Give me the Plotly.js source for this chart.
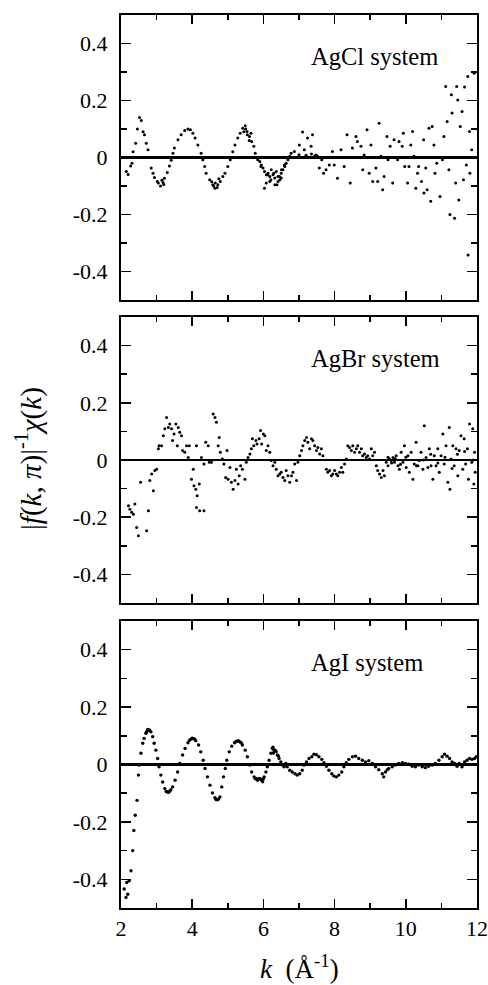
<!DOCTYPE html>
<html>
<head>
<meta charset="utf-8">
<script src="https://cdn.plot.ly/plotly-3.0.1.min.js"></script>
<style>html,body{margin:0;padding:0;background:#fff;}#chart{width:488px;height:985px;}</style>
</head>
<body>
<div id="chart"></div>
<script>
// ---- Data ----
const panelLabels = ["AgCl system", "AgBr system", "AgI system"];
const xTickVals = [2, 4, 6, 8, 10, 12];
const xTickText = ["2", "4", "6", "8", "10", "12"];
const yTickVals = [-0.4, -0.2, 0, 0.2, 0.4];
const yTickText = ["-0.4", "-0.2", "0", "0.2", "0.4"];

// AgCl system
const kAgCl = [2.15,2.2,2.27,2.31,2.34,2.41,2.46,2.52,2.57,2.62,2.66,2.71,2.76,2.8,2.85,2.9,2.94,3.02,3.05,3.11,3.15,3.18,3.2,3.22,3.3,3.36,3.41,3.46,3.5,3.6,3.69,3.79,3.88,3.95,4.02,4.08,4.16,4.25,4.3,4.35,4.39,4.49,4.55,4.58,4.6,4.64,4.65,4.7,4.72,4.75,4.79,4.86,4.92,5.0,5.07,5.14,5.2,5.28,5.35,5.42,5.45,5.49,5.5,5.54,5.55,5.6,5.61,5.65,5.67,5.73,5.77,5.84,5.9,5.93,5.94,5.99,6.03,6.03,6.08,6.08,6.12,6.13,6.18,6.18,6.21,6.22,6.27,6.29,6.32,6.32,6.36,6.38,6.41,6.41,6.45,6.46,6.5,6.5,6.51,6.55,6.59,6.6,6.64,6.68,6.69,6.74,6.78,6.87,7.0,7.01,7.1,7.15,7.2,7.24,7.34,7.35,7.38,7.45,7.48,7.52,7.57,7.64,7.69,7.76,7.85,7.94,7.99,8.08,8.18,8.27,8.35,8.44,8.5,8.6,8.64,8.74,8.79,8.83,8.91,8.97,9.02,9.07,9.16,9.21,9.25,9.3,9.35,9.39,9.47,9.5,9.56,9.63,9.67,9.77,9.81,9.9,9.93,9.97,10.05,10.09,10.14,10.19,10.23,10.28,10.33,10.36,10.44,10.5,10.51,10.56,10.6,10.65,10.7,10.74,10.79,10.82,10.87,10.96,11.03,11.07,11.12,11.16,11.21,11.24,11.28,11.3,11.37,11.4,11.43,11.46,11.49,11.53,11.58,11.62,11.65,11.7,11.74,11.75,11.79,11.8,11.85,11.92];
const vAgCl = [-0.049,-0.06,-0.03,-0.02,0.02,0.05,0.1,0.14,0.13,0.09,0.08,0.05,0.027,0,-0.037,-0.055,-0.07,-0.084,-0.09,-0.1,-0.08,-0.088,-0.095,-0.073,-0.053,-0.03,-0.01,0.015,0.033,0.062,0.08,0.095,0.1,0.097,0.085,0.068,0.044,0.015,-0.008,-0.032,-0.055,-0.078,-0.085,-0.096,-0.1,-0.108,-0.09,-0.105,-0.096,-0.075,-0.084,-0.067,-0.055,-0.032,-0.008,0.02,0.044,0.068,0.085,0.103,0.09,0.111,0.1,0.091,0.08,0.06,0.074,0.085,0.056,0.039,0.015,-0.008,-0.014,-0.032,-0.026,-0.037,-0.049,-0.108,-0.061,-0.09,-0.061,-0.055,-0.067,-0.084,-0.078,-0.043,-0.061,-0.055,-0.072,-0.096,-0.049,-0.096,-0.067,-0.084,-0.067,-0.078,-0.055,-0.072,-0.043,-0.043,-0.026,-0.032,-0.02,-0.002,-0.008,0.004,0.015,0.021,0.01,0.044,0.089,0.027,0.008,0.068,0.039,0.012,0.08,0.006,0.009,0.004,-0.037,-0.008,-0.055,-0.043,-0.026,0.021,-0.026,-0.073,0.027,-0.032,0.08,-0.09,0.033,0.074,0.056,0.039,-0.043,0.009,0.097,-0.055,0.044,-0.084,-0.037,-0.084,0.12,0.004,-0.113,-0.067,0.074,-0.008,0.039,-0.09,0.062,-0.008,0.056,0.039,0.085,-0.032,-0.09,-0.032,0.044,0.091,0.004,-0.108,-0.055,-0.032,-0.084,0.062,-0.125,-0.037,-0.113,0.103,-0.154,0.109,0.044,-0.055,-0.02,-0.137,-0.008,0.074,0.249,0.126,-0.043,-0.2,0.22,0.156,-0.213,-0.09,0.249,0.202,-0.149,0.109,0.161,-0.078,0.247,-0.026,0.284,-0.342,0.091,-0.055,0.027,0.296];

// AgBr system
const kAgBr = [2.21,2.25,2.3,2.35,2.39,2.44,2.49,2.55,2.72,2.77,2.81,2.86,2.91,2.95,3.0,3.05,3.07,3.14,3.19,3.23,3.28,3.33,3.37,3.42,3.45,3.49,3.54,3.58,3.61,3.65,3.7,3.73,3.79,3.84,3.89,3.92,3.98,4.03,4.05,4.1,4.12,4.14,4.2,4.12,4.21,4.33,4.26,4.33,4.38,4.45,4.48,4.54,4.59,4.64,4.68,4.73,4.76,4.79,4.85,4.89,4.94,4.98,5.01,5.06,5.1,5.15,5.2,5.24,5.29,5.32,5.36,5.41,5.48,5.52,5.57,5.62,5.66,5.69,5.73,5.79,5.82,5.88,5.92,5.95,6.0,6.04,6.08,6.13,6.18,6.22,6.27,6.32,6.36,6.41,6.46,6.5,6.55,6.6,6.64,6.69,6.74,6.79,6.83,6.88,6.93,6.97,7.02,7.07,7.11,7.16,7.21,7.25,7.3,7.35,7.39,7.44,7.49,7.53,7.58,7.63,7.67,7.77,7.81,7.86,7.91,7.95,8.0,8.05,8.09,8.14,8.19,8.23,8.28,8.33,8.37,8.42,8.47,8.51,8.56,8.61,8.65,8.7,8.75,8.79,8.84,8.89,8.93,8.98,9.03,9.07,9.12,9.17,9.21,9.26,9.31,9.36,9.4,9.45,9.5,9.5,9.54,9.59,9.6,9.64,9.68,9.7,9.73,9.78,9.82,9.85,9.87,9.92,9.96,10.0,10.01,10.06,10.1,10.15,10.2,10.24,10.29,10.3,10.34,10.38,10.43,10.48,10.5,10.52,10.57,10.62,10.66,10.7,10.71,10.76,10.8,10.85,10.9,10.9,10.94,10.99,11.04,11.08,11.1,11.13,11.18,11.22,11.24,11.27,11.3,11.32,11.36,11.41,11.45,11.46,11.5,11.55,11.6,11.64,11.65,11.68,11.73,11.76,11.79,11.85,11.88,11.9,11.91,11.93,11.95];
const vAgBr = [-0.16,-0.172,-0.183,-0.19,-0.154,-0.236,-0.265,-0.078,-0.247,-0.177,-0.072,-0.049,-0.107,-0.037,-0.032,0.039,0.05,0.05,0.085,0.109,0.149,0.114,0.126,0.109,0.068,0.091,0.126,0.05,0.114,0.097,0.085,0.033,0.027,0.05,0.009,0.05,-0.067,-0.032,-0.09,-0.102,0.05,-0.125,-0.084,-0.166,-0.177,-0.177,0.009,-0.014,0.062,0.05,-0.008,-0.008,0.161,0.149,0.132,0.05,0.079,0.027,0.004,-0.014,-0.061,0.033,-0.067,-0.026,-0.078,-0.102,-0.072,-0.032,-0.084,-0.055,-0.02,-0.032,-0.067,-0.008,0.009,0.021,0.039,0.074,0.05,0.068,0.056,0.074,0.103,0.056,0.091,0.085,0.033,0.05,0.027,-0.002,-0.02,-0.008,-0.032,-0.055,-0.049,-0.043,-0.061,-0.072,-0.037,-0.055,-0.078,-0.055,-0.043,-0.014,-0.072,-0.008,0.015,0.033,0.05,0.068,0.079,0.062,0.039,0.074,0.068,0.05,0.033,0.044,0.021,0.039,0.015,-0.032,-0.043,-0.037,-0.055,-0.049,-0.037,-0.049,-0.055,-0.043,-0.026,-0.043,-0.014,0.004,0.05,0.044,0.033,0.05,0.027,0.039,0.05,0.027,0.039,0.015,0.021,0.009,0.015,0.004,0.039,0.015,0.027,-0.02,-0.037,-0.049,-0.061,-0.037,-0.055,-0.008,-0.02,0.01,0.004,-0.002,-0.01,0.009,-0.008,0.005,0.015,-0.02,-0.032,-0.015,0.027,-0.008,0.05,0.01,-0.026,0.015,-0.043,0.027,-0.067,-0.014,0.062,-0.02,-0.02,-0.002,0.027,-0.032,0.0,0.12,0.009,-0.026,0.039,0.02,-0.02,-0.067,0.015,-0.02,0.039,-0.01,-0.043,0.015,0.091,-0.014,0.01,0.05,-0.078,0.114,-0.102,0.004,-0.03,0.05,-0.02,0.039,0.02,-0.055,0.033,0.085,-0.032,0.074,0.03,-0.014,0.039,-0.067,0.126,-0.008,0.109,0.0,-0.084,0.027,-0.043];

// AgI system
const kAgI = [2.09,2.14,2.16,2.19,2.23,2.28,2.33,2.36,2.4,2.45,2.49,2.51,2.56,2.61,2.65,2.7,2.72,2.75,2.77,2.8,2.84,2.89,2.93,2.98,3.03,3.07,3.12,3.17,3.23,3.27,3.31,3.34,3.37,3.4,3.45,3.52,3.59,3.65,3.73,3.8,3.88,3.92,3.96,4.0,4.04,4.07,4.1,4.18,4.24,4.31,4.36,4.43,4.5,4.57,4.64,4.67,4.71,4.74,4.78,4.83,4.88,4.93,4.97,5.04,5.11,5.19,5.23,5.27,5.31,5.35,5.38,5.41,5.49,5.55,5.62,5.67,5.74,5.77,5.8,5.84,5.88,5.92,5.95,5.98,6.0,6.02,6.07,6.11,6.16,6.21,6.25,6.27,6.28,6.3,6.33,6.36,6.39,6.42,6.44,6.49,6.53,6.58,6.63,6.67,6.74,6.81,6.89,6.95,7.02,7.09,7.14,7.21,7.28,7.36,7.42,7.49,7.56,7.64,7.7,7.77,7.84,7.92,7.98,8.05,8.12,8.2,8.26,8.33,8.4,8.5,8.59,8.68,8.78,8.87,8.96,9.06,9.15,9.24,9.34,9.38,9.43,9.48,9.52,9.62,9.71,9.8,9.9,9.99,10.08,10.18,10.27,10.36,10.46,10.55,10.64,10.74,10.83,10.93,11.02,11.09,11.16,11.23,11.3,11.37,11.44,11.5,11.58,11.65,11.72,11.79,11.86,11.93,11.98];
const vAgI = [-0.434,-0.463,-0.411,-0.452,-0.405,-0.37,-0.3,-0.23,-0.177,-0.125,-0.037,-0.002,0.039,0.074,0.091,0.109,0.114,0.122,0.118,0.12,0.114,0.097,0.074,0.05,0.021,-0.008,-0.037,-0.061,-0.084,-0.094,-0.096,-0.097,-0.092,-0.088,-0.078,-0.055,-0.026,0.004,0.033,0.056,0.076,0.084,0.088,0.092,0.09,0.088,0.083,0.068,0.044,0.015,-0.014,-0.043,-0.072,-0.099,-0.116,-0.122,-0.123,-0.12,-0.113,-0.078,-0.043,-0.014,0.015,0.044,0.064,0.076,0.08,0.082,0.082,0.078,0.075,0.068,0.05,0.027,-0.002,-0.026,-0.043,-0.05,-0.049,-0.055,-0.049,-0.05,-0.055,-0.06,-0.05,-0.043,-0.026,-0.008,0.015,0.039,0.056,0.06,0.04,0.05,0.05,0.045,0.033,0.03,0.021,0.009,-0.002,-0.008,0.004,-0.008,-0.02,-0.026,-0.032,-0.037,-0.032,-0.02,-0.002,0.009,0.021,0.027,0.036,0.034,0.027,0.018,0.006,-0.006,-0.02,-0.032,-0.04,-0.043,-0.037,-0.026,-0.008,0.006,0.018,0.027,0.029,0.021,0.015,0.009,0.013,0.004,-0.008,-0.018,-0.032,-0.043,-0.026,-0.018,-0.014,-0.008,-0.002,0.004,0.006,0.004,0.001,-0.006,-0.008,-0.002,-0.008,-0.011,-0.006,-0.002,0.004,0.015,0.027,0.036,0.029,0.021,0.009,0.004,-0.006,0.004,-0.008,0.009,0.015,0.021,0.018,0.021,0.027];

// ---- Chart ----
const FONT = "Liberation Serif, Times New Roman, serif";
const ks = [kAgCl, kAgBr, kAgI];
const vs = [vAgCl, vAgBr, vAgI];
const traces = ks.map((k, i) => ({
  type: "scatter", mode: "markers",
  x: k, y: vs[i],
  xaxis: i === 0 ? "x" : "x" + (i + 1),
  yaxis: i === 0 ? "y" : "y" + (i + 1),
  marker: {color: "#000", size: i === 2 ? 3.4 : 3, symbol: "circle", line: {width: 0}},
  hoverinfo: "skip", showlegend: false
}));

const domains = [[0.6809, 1], [0.3415, 0.6618], [0, 0.3214]];
const layout = {
  width: 488, height: 985,
  margin: {l: 121, r: 11, t: 15, b: 77},
  paper_bgcolor: "#fff", plot_bgcolor: "#fff",
  font: {family: FONT, color: "#000", size: 22},
  showlegend: false,
  annotations: [],
  shapes: []
};
for (let i = 0; i < 3; i++) {
  const xn = i === 0 ? "xaxis" : "xaxis" + (i + 1);
  const yn = i === 0 ? "yaxis" : "yaxis" + (i + 1);
  const xr = i === 0 ? "x" : "x" + (i + 1);
  const yr = i === 0 ? "y" : "y" + (i + 1);
  layout[xn] = {
    anchor: yr, domain: [0, 1], range: [2, 12],
    tickmode: "array", tickvals: xTickVals, ticktext: xTickText,
    showticklabels: i === 2,
    ticks: "inside", ticklen: 9, tickwidth: 1.5, tickcolor: "#000",
    minor: {ticks: "inside", tickmode: "array", tickvals: [3,5,7,9,11], ticklen: 5, tickwidth: 1.5, tickcolor: "#000", showgrid: false},
    showline: true, linecolor: "#000", linewidth: 2, mirror: "allticks",
    showgrid: false, zeroline: false,
    tickfont: {family: FONT, size: 22, color: "#000"},
    ticklabelstandoff: 0, fixedrange: true
  };
  layout[yn] = {
    anchor: xr, domain: domains[i], range: [-0.5, 0.5],
    tickmode: "array", tickvals: yTickVals, ticktext: yTickText,
    ticks: "inside", ticklen: 10, tickwidth: 1.5, tickcolor: "#000",
    minor: {ticks: "inside", tickmode: "array", tickvals: [-0.3,-0.1,0.1,0.3], ticklen: 6, tickwidth: 1.5, tickcolor: "#000", showgrid: false},
    showline: true, linecolor: "#000", linewidth: 2, mirror: "allticks",
    showgrid: false, zeroline: true, zerolinecolor: "#000", zerolinewidth: 2.2,
    tickfont: {family: FONT, size: 22, color: "#000"},
    ticklabelstandoff: 7, fixedrange: true
  };
  layout.annotations.push({
    xref: xr, yref: yr, x: 7.27, y: 0.355, xanchor: "left", yanchor: "middle",
    text: panelLabels[i], showarrow: false,
    font: {family: FONT, size: 24.5, color: "#000"}
  });
}
layout.annotations.push({
  xref: "paper", yref: "paper", x: -0.258, y: 0.503, xanchor: "center", yanchor: "middle",
  textangle: -90, showarrow: false,
  text: "|<i>f</i>(<i>k</i>, <i>π</i>)|<sup>-1</sup><i>χ</i>(<i>k</i>)",
  font: {family: FONT, size: 29, color: "#000"}
});
layout.annotations.push({
  xref: "paper", yref: "paper", x: 0.5, y: -0.066, xanchor: "center", yanchor: "middle",
  showarrow: false,
  text: "<i>k</i>  (Å<sup>-1</sup>)",
  font: {family: FONT, size: 27, color: "#000"}
});

Plotly.newPlot("chart", traces, layout, {staticPlot: true, displayModeBar: false});
</script>
</body>
</html>
